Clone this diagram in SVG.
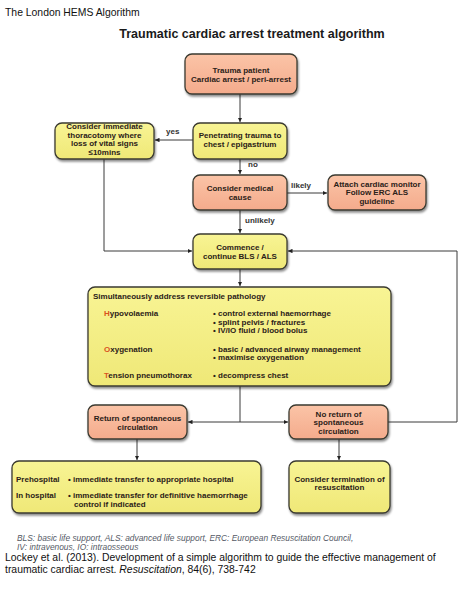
<svg xmlns="http://www.w3.org/2000/svg" width="474" height="593" viewBox="0 0 474 593">
<style>
.bg{fill:#ffffff}
.box{stroke:#3b3a30;stroke-width:1.3;filter:url(#sh)}
.sal{fill:url(#gs)}
.yel{fill:url(#gy)}
.t{font-family:"Liberation Sans",Arial,sans-serif;font-weight:bold;font-size:8px;fill:#2b2118}
.c{text-anchor:middle}
.lbl{font-family:"Liberation Sans",Arial,sans-serif;font-weight:bold;font-size:8px;fill:#333}
.hl{fill:#d9531e}
.ln{fill:none;stroke:#3a3a3a;stroke-width:1}
.arr{marker-end:url(#ah)}
.title{font-family:"Liberation Sans",Arial,sans-serif;font-size:10.4px;fill:#111}
.head{font-family:"Liberation Sans",Arial,sans-serif;font-weight:bold;font-size:12.5px;fill:#1a1a1a;text-anchor:middle}
.foot{font-family:"Liberation Sans",Arial,sans-serif;font-style:italic;font-size:8.4px;fill:#555a66}
</style>
<defs>
<linearGradient id="gs" x1="0" y1="0" x2="0" y2="1"><stop offset="0" stop-color="#fbc4a7"/><stop offset="1" stop-color="#f4ab8c"/></linearGradient>
<linearGradient id="gy" x1="0" y1="0" x2="0" y2="1"><stop offset="0" stop-color="#f8f494"/><stop offset="1" stop-color="#efe877"/></linearGradient>
<filter id="sh" x="-10%" y="-10%" width="130%" height="140%"><feDropShadow dx="1" dy="2" stdDeviation="1.2" flood-color="#000" flood-opacity="0.45"/></filter>
<marker id="ah" viewBox="0 0 10 10" refX="10" refY="5" markerWidth="4.5" markerHeight="4.5" orient="auto" markerUnits="userSpaceOnUse"><path d="M0,0 L10,5 L0,10 z" fill="#222"/></marker>
</defs>
<rect class="bg" x="0" y="0" width="474" height="593"/>
<text class="title" x="5" y="16">The London HEMS Algorithm</text>
<text class="head" x="252" y="38">Traumatic cardiac arrest treatment algorithm</text>

<g id="connectors">
<path class="ln arr" d="M240,94 V122"/>
<path class="ln arr" d="M193,140 H155"/>
<text class="lbl" x="166" y="134">yes</text>
<path class="ln arr" d="M240,159 V174"/>
<text class="lbl" x="248" y="167">no</text>
<path class="ln arr" d="M287,193 H327"/>
<text class="lbl" x="291" y="188">likely</text>
<path class="ln arr" d="M240,210 V233"/>
<text class="lbl" x="245" y="223">unlikely</text>
<path class="ln arr" d="M104,159 V251 H192"/>
<path class="ln arr" d="M240,269 V286"/>
<path class="ln" d="M240,386 V422"/>
<path class="ln arr" d="M240,422 H188"/>
<path class="ln arr" d="M240,422 H288"/>
<path class="ln arr" d="M388,422 H457 V251 H288"/>
<path class="ln arr" d="M137,439 V460"/>
<path class="ln arr" d="M339,439 V460"/>
</g>

<g id="trauma">
<rect class="box sal" x="185" y="54" width="112" height="40" rx="7"/>
<text class="t c" x="241" y="73">Trauma patient</text>
<text class="t c" x="241" y="82">Cardiac arrest / peri-arrest</text>
</g>

<g id="penetrating">
<rect class="box yel" x="193" y="123" width="94" height="36" rx="7"/>
<text class="t c" x="240" y="138">Penetrating trauma to</text>
<text class="t c" x="240" y="147">chest / epigastrium</text>
</g>

<g id="thoracotomy">
<rect class="box yel" x="55" y="123" width="99" height="36" rx="7"/>
<text class="t c" x="104.5" y="129">Consider immediate</text>
<text class="t c" x="104.5" y="137.5">thoracotomy where</text>
<text class="t c" x="104.5" y="146">loss of vital signs</text>
<text class="t c" x="104.5" y="155">≤10mins</text>
</g>

<g id="medical">
<rect class="box sal" x="193" y="175" width="94" height="35" rx="7"/>
<text class="t c" x="240" y="191">Consider medical</text>
<text class="t c" x="240" y="199.5">cause</text>
</g>

<g id="attach">
<rect class="box sal" x="328" y="175" width="98" height="35" rx="7"/>
<text class="t c" x="377" y="186.5">Attach cardiac monitor</text>
<text class="t c" x="377" y="195">Follow ERC ALS</text>
<text class="t c" x="377" y="203.5">guideline</text>
</g>

<g id="commence">
<rect class="box yel" x="193" y="234" width="94" height="35" rx="7"/>
<text class="t c" x="240" y="250">Commence /</text>
<text class="t c" x="240" y="258.5">continue BLS / ALS</text>
</g>

<g id="pathology">
<rect class="box yel" x="88" y="287" width="303" height="99" rx="7"/>
<text class="t" x="93" y="299">Simultaneously address reversible pathology</text>
<text class="t" x="104" y="316"><tspan class="hl">H</tspan>ypovolaemia</text>
<text class="t" x="213" y="316">• control external haemorrhage</text>
<text class="t" x="213" y="324.5">• splint pelvis / fractures</text>
<text class="t" x="213" y="333">• IV/IO fluid / blood bolus</text>
<text class="t" x="104" y="351.5"><tspan class="hl">O</tspan>xygenation</text>
<text class="t" x="213" y="351.5">• basic / advanced airway management</text>
<text class="t" x="213" y="360">• maximise oxygenation</text>
<text class="t" x="104" y="377.5"><tspan class="hl">T</tspan>ension pneumothorax</text>
<text class="t" x="213" y="377.5">• decompress chest</text>
</g>

<g id="rosc">
<rect class="box sal" x="88" y="405" width="99" height="34" rx="7"/>
<text class="t c" x="137.5" y="421">Return of spontaneous</text>
<text class="t c" x="137.5" y="429.5">circulation</text>
</g>

<g id="nrosc">
<rect class="box sal" x="289" y="405" width="99" height="34" rx="7"/>
<text class="t c" x="338.5" y="416.5">No return of</text>
<text class="t c" x="338.5" y="425">spontaneous</text>
<text class="t c" x="338.5" y="433.5">circulation</text>
</g>

<g id="transfer">
<rect class="box yel" x="12" y="461" width="249" height="52" rx="7"/>
<text class="t" x="16" y="481.5">Prehospital</text>
<text class="t" x="68" y="481.5">• immediate transfer to appropriate hospital</text>
<text class="t" x="16" y="498">In hospital</text>
<text class="t" x="68" y="498">• immediate transfer for definitive haemorrhage</text>
<text class="t" x="74" y="506.5">control  if indicated</text>
</g>

<g id="termination">
<rect class="box yel" x="289" y="461" width="101" height="52" rx="7"/>
<text class="t c" x="339.5" y="481.5">Consider termination of</text>
<text class="t c" x="339.5" y="490">resuscitation</text>
</g>

<text class="foot" x="17" y="541">BLS: basic life support, ALS: advanced life support, ERC: European Resuscitation Council,</text>
<text class="foot" x="17" y="550">IV: intravenous, IO: intraosseous</text>
<text class="title" x="5" y="561">Lockey et al. (2013). Development of a simple algorithm to guide the effective management of</text>
<text class="title" x="5" y="573">traumatic cardiac arrest. <tspan font-style="italic">Resuscitation</tspan>, 84(6), 738-742</text>
</svg>
